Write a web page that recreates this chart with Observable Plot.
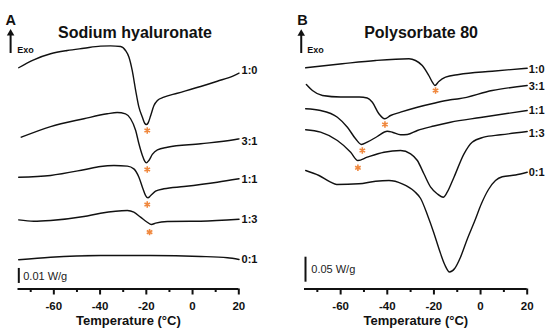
<!DOCTYPE html>
<html><head><meta charset="utf-8">
<script src="https://cdn.jsdelivr.net/npm/d3@7"></script>
<script src="https://cdn.jsdelivr.net/npm/@observablehq/plot@0.6"></script>
<style>
body{margin:0;background:#fff;}
#wrap{display:flex;width:550px;height:335px;overflow:hidden;}
#wrap svg{display:block;}
</style></head><body><div id="wrap"></div>
<script>
// ---- Data (Temperature °C, heat flow in mW/g incl. vertical stacking offset) ----
const ratios = ["1:0", "3:1", "1:1", "1:3", "0:1"];

// Panel A: Sodium hyaluronate
const A_1_0 = [[-75.2,147.5],[-68.7,152.8],[-61.4,156.8],[-54.2,159.0],[-47.0,160.5],[-39.8,161.9],[-35.5,162.1],[-31.1,161.7],[-29.0,159.0],[-27.5,154.5],[-26.1,145.7],[-24.6,132.3],[-23.2,121.2],[-21.7,114.5],[-20.7,110.5],[-20.0,109.7],[-19.3,110.5],[-18.1,115.7],[-16.7,122.3],[-15.2,125.7],[-12.4,127.9],[-6.6,130.5],[3.5,135.0],[10.7,138.5],[17.9,142.3],[20.1,143.9]];
const A_3_1 = [[-74.1,101.2],[-61.4,108.3],[-47.0,113.5],[-36.9,116.8],[-32.6,117.7],[-29.0,116.8],[-26.8,113.5],[-24.6,105.7],[-23.2,96.8],[-21.7,89.0],[-20.7,85.2],[-20.0,84.1],[-18.9,85.7],[-17.4,89.7],[-15.2,92.8],[-10.9,94.5],[3.5,96.8],[17.9,99.5],[20.1,100.1]];
const A_1_1 = [[-75.2,74.5],[-61.4,75.7],[-47.0,79.5],[-39.8,81.7],[-34.0,82.3],[-28.2,81.9],[-25.4,80.1],[-23.2,74.5],[-21.7,67.9],[-20.3,62.3],[-19.3,60.8],[-18.1,62.3],[-16.0,65.2],[-12.4,66.8],[-3.7,68.3],[10.7,71.2],[20.1,73.5]];
const A_1_3 = [[-75.2,46.1],[-68.7,45.2],[-61.4,45.7],[-47.0,48.3],[-39.8,50.5],[-28.2,52.3],[-25.4,51.2],[-22.5,47.9],[-19.6,44.5],[-17.8,43.0],[-16.0,43.9],[-10.9,45.0],[3.5,45.2],[20.1,46.5]];
const A_0_1 = [[-75.2,19.5],[-61.4,21.2],[-39.8,22.3],[-18.1,22.3],[3.5,21.7],[15.1,20.8],[20.1,19.7]];
const A_labelY = [145.7, 98.5, 73.0, 46.1, 19.5];
const A_stars = [[-19.6,105.7],[-19.6,79.7],[-19.6,56.3],[-18.6,37.9]];

// Panel B: Polysorbate 80
const B_1_0 = [[-75.0,442.4],[-59.3,450.4],[-45.0,457],[-30.7,460.4],[-27.9,457],[-25.0,447],[-22.2,427],[-20.4,411.6],[-19.6,407],[-17.9,415],[-15.0,423.6],[-9.3,429],[5.0,435.6],[20.0,441.6]];
const B_3_1 = [[-74.7,409],[-72.1,397],[-67.8,387],[-60.0,384],[-52.0,384],[-48.6,382],[-46.4,373.6],[-43.6,350.4],[-41.1,340.4],[-38.6,347],[-34.3,353.6],[-27.1,363.6],[-20.0,371.6],[-12.9,378.4],[-9.3,380.4],[5.0,397],[20.0,407]];
const B_1_1 = [[-75.0,360.4],[-68.6,357],[-61.4,343.6],[-57.1,323.6],[-53.6,300.4],[-51.1,289],[-48.6,293.6],[-44.3,305],[-40.0,315.6],[-37.8,313.6],[-34.3,308.4],[-31.4,309],[-27.1,317],[-20.0,326],[-12.9,333.6],[0.0,343],[20.0,357]];
const B_1_3 = [[-75.0,318.4],[-68.6,313.6],[-61.4,297],[-55.7,273.6],[-52.6,257],[-48.6,263.6],[-41.4,273.6],[-34.3,277],[-30.0,270.4],[-27.1,257],[-24.3,230.4],[-21.4,203.6],[-18.6,190.4],[-16.0,183.6],[-14.3,193.6],[-11.4,223.6],[-7.1,270.4],[-3.6,293.6],[1.4,303.6],[8.6,308.4],[20.0,315]];
const B_0_1 = [[-75.0,237],[-69.3,227],[-64.3,213.6],[-61.7,209],[-52.2,210.4],[-45.0,215.6],[-39.3,217],[-33.6,210.4],[-28.3,195],[-25.7,181],[-22.7,147],[-20.1,113],[-17.6,77],[-15.4,49],[-13.3,34],[-11.1,41],[-8.6,63.6],[-5.6,101],[-2.6,135],[0.4,171],[3.4,199],[6.4,217],[9.3,224.4],[15.0,228],[20.0,233.6]];
const B_labelY = [439, 405.6, 357, 311.6, 233.6];
const B_stars = [[-19.3,397],[-41.0,329],[-50.7,277],[-52.6,242.4]];

const majorTicks = [-60, -40, -20, 0, 20];
const minorTicks = [-70, -50, -30, -10, 10];
const xDomain = [-75.5, 20];

const FONT = '"Liberation Sans", Arial, Helvetica, sans-serif';
const INK = "#111";
const STAR = "#f0883e";

function panel(cfg) {
  const rows = cfg.series.flatMap((pts, i) => pts.map(([T, v]) => ({name: ratios[i], T, v})));
  const labels = cfg.series.map((pts, i) => ({name: ratios[i], T: pts[pts.length - 1][0], v: cfg.labelY[i]}));
  const stars = cfg.stars.map(([T, v]) => ({T, v}));
  return Plot.plot({
    width: 275, height: 335,
    marginLeft: cfg.ml, marginRight: cfg.mr, marginTop: 0, marginBottom: 46.5,
    x: {domain: xDomain},
    y: {domain: [0, cfg.ymax], axis: null},
    style: {fontFamily: FONT, color: INK, background: "white", overflow: "visible"},
    marks: [
      Plot.ruleY([0], {strokeWidth: 2, stroke: INK}),
      Plot.axisX({ticks: majorTicks, tickSize: 6, tickPadding: 7, tickFormat: d => String(d), fontSize: 11.5, fontWeight: "bold", strokeWidth: 2, label: null, color: INK}),
      Plot.axisX({ticks: minorTicks, tickSize: 3.5, tickFormat: () => "", strokeWidth: 2, label: null, color: INK}),
      Plot.text(["Temperature (°C)"], {frameAnchor: "bottom", dy: 36, text: d => d, fontSize: 13, fontWeight: "bold", fill: INK}),
      Plot.line(rows, {x: "T", y: "v", z: "name", curve: "monotone-x", stroke: INK, strokeWidth: 1.4}),
      Plot.text(labels, {x: "T", y: "v", text: "name", dx: cfg.labelDx, textAnchor: "start", fontSize: 11, fontWeight: "bold", fill: INK}),
      Plot.dot(stars, {x: "T", y: "v", symbol: "asterisk", r: 3, stroke: STAR, strokeWidth: 1.6}),
      // scale bar
      Plot.ruleX([cfg.bar], {x: "x", y1: "y1", y2: "y2", strokeWidth: 2, stroke: INK}),
      Plot.text([cfg.bar], {x: "tx", y: "ty", text: "label", textAnchor: "start", fontSize: 11, fill: "#222"}),
      // Exo arrow
      Plot.ruleX([cfg.arrow], {x: "x", y1: "y1", y2: "y2", strokeWidth: 2, stroke: INK}),
      Plot.dot([cfg.arrow], {x: "x", y: "head", symbol: "triangle", r: 2.8, fill: INK, stroke: null}),
      Plot.text(["Exo"], {frameAnchor: "top-left", dx: cfg.exoDx, dy: 46.3, text: d => d, textAnchor: "start", fontSize: 9, fontWeight: "bold", fill: INK}),
      // panel letter & title
      Plot.text([cfg.letter], {frameAnchor: "top-left", dx: cfg.letterDx, dy: 13.8, text: d => d, textAnchor: "start", fontSize: 14.5, fontWeight: "bold", fill: INK}),
      Plot.text([cfg.title], {frameAnchor: "top", dx: cfg.titleDx, dy: 25.7, text: d => d, fontSize: 16, fontWeight: "bold", fill: INK})
    ]
  });
}

const wrap = document.getElementById("wrap");
wrap.append(panel({
  series: [A_1_0, A_3_1, A_1_1, A_1_3, A_0_1], labelY: A_labelY, stars: A_stars,
  ml: 17.5, mr: 36.7, ymax: 192.33, labelDx: 2.5,
  bar: {x: -75.15, y1: 3.7, y2: 13.7, tx: -73.25, ty: 8.5, label: "0.01 W/g"},
  arrow: {x: -78.7, y1: 157, y2: 169, head: 170.5},
  exoDx: -0.8, letter: "A", letterDx: -12.5, title: "Sodium hyaluronate", titleDx: 6.6
}));
wrap.append(panel({
  series: [B_1_0, B_3_1, B_1_1, B_1_3, B_0_1], labelY: B_labelY, stars: B_stars,
  ml: 29, mr: 23.3, ymax: 577, labelDx: 1.5,
  bar: {x: -75.07, y1: 13.6, y2: 63.6, tx: -72.6, ty: 38.4, label: "0.05 W/g"},
  arrow: {x: -76.9, y1: 471, y2: 507, head: 511},
  exoDx: 2.7, letter: "B", letterDx: -7.3, title: "Polysorbate 80", titleDx: 5.2
}));
</script></body></html>
